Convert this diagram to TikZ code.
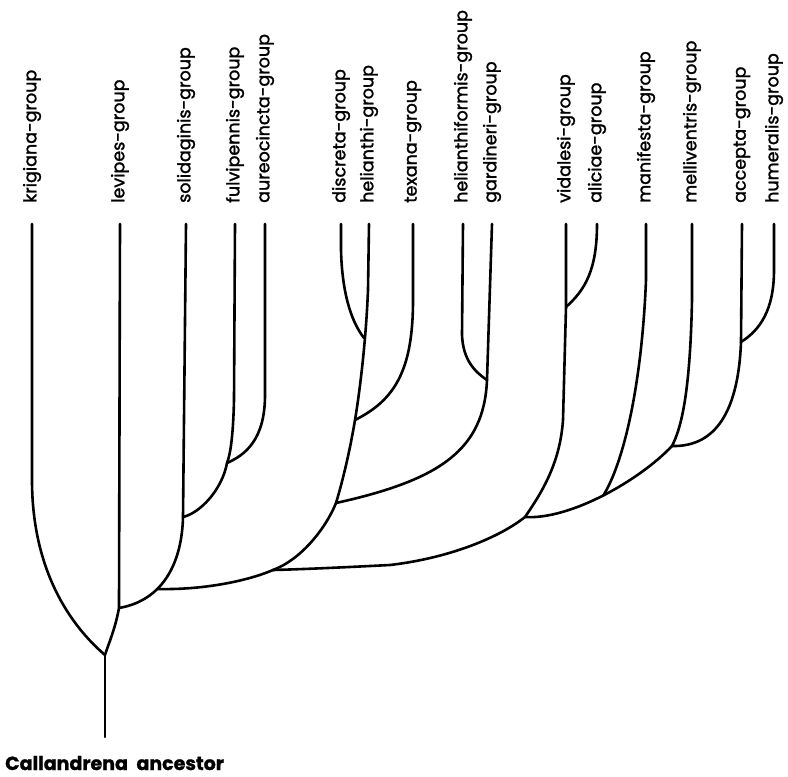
\documentclass[tikz,border=0pt]{standalone}
\usepackage{fontspec}
\setmainfont{Poppins}
\newfontfamily\labfont[FakeBold=1.6]{Poppins}
\newfontfamily\ancfont[FakeBold=1.2]{Poppins}
\begin{document}
\begin{tikzpicture}[x=1pt,y=-1pt,
  branch/.style={draw=black, line width=2.6pt, line cap=round, line join=round},
  lab/.style={rotate=90, anchor=west, inner sep=0pt, font=\labfont\fontsize{17.5}{17.5}\selectfont},
  anclab/.style={anchor=base west, inner sep=0pt, font=\ancfont\bfseries\fontsize{19}{19}\selectfont}]
\useasboundingbox (0,0) rectangle (788,777);
% tips
\foreach \n/\x in {kri/32,lev/120,sol/186,ful/235,aur/265,dis/341,hel/369,tex/413,hfm/463,gar/492,vid/566,ali/597,man/646,mel/692,acc/742,hum/774}
  \coordinate (\n) at (\x,224);
% labels
\node[lab] (Lkri) at (32,203) {krigiana-group};
\node[lab] (Llev) at (120,203) {levipes-group};
\node[lab] (Lsol) at (186,203) {solidaginis-group};
\node[lab] (Lful) at (235,203) {fulvipennis-group};
\node[lab] (Laur) at (265,203) {aureocincta-group};
\node[lab] (Ldis) at (341,203) {discreta-group};
\node[lab] (Lhel) at (369,203) {helianthi-group};
\node[lab] (Ltex) at (413,203) {texana-group};
\node[lab] (Lhfm) at (463,203) {helianthiformis-group};
\node[lab] (Lgar) at (492,203) {gardineri-group};
\node[lab] (Lvid) at (566,203) {vidalesi-group};
\node[lab] (Lali) at (597,203) {aliciae-group};
\node[lab] (Lman) at (646,203) {manifesta-group};
\node[lab] (Lmel) at (692,203) {melliventris-group};
\node[lab] (Lacc) at (742,203) {accepta-group};
\node[lab] (Lhum) at (774,203) {humeralis-group};
\node[anclab] (anc) at (5,770) {Callandrena\hspace{0.45em}ancestor};
% internal nodes
\coordinate (R) at (105,655);
\coordinate (base) at (105,737);
\coordinate (N1) at (119,608);
\coordinate (N2) at (158,589);
\coordinate (N3) at (183,517);
\coordinate (N4) at (227,463);
\coordinate (N5) at (273,570);
\coordinate (N6) at (336,503);
\coordinate (N7) at (364,338);
\coordinate (N8) at (355,420);
\coordinate (N9) at (487,380);
\coordinate (N10) at (525,517);
\coordinate (N11) at (603.4,495.4);
\coordinate (N12) at (672,446);
\coordinate (N13) at (741,342);
\coordinate (N14) at (566,307);
% branches
\draw[branch] (R) -- (base);
\draw[branch] (kri) -- (32,480) .. controls (32,570) and (70,625) .. (R);
\draw[branch] (lev) -- (N1) .. controls (115,630) and (108,645) .. (R);
\draw[branch] (sol) -- (N3) .. controls (182,560) and (165,600) .. (N1);
\draw[branch] (N2) .. controls (200,590) and (245,582) .. (N5);
\draw[branch] (ful) -- (234,400) .. controls (233,440) and (230,455) .. (N4) .. controls (222,490) and (200,513) .. (N3);
\draw[branch] (aur) -- (265,395) .. controls (265,440) and (245,455) .. (N4);
\draw[branch] (hel) -- (368,290) .. controls (366,340) and (360,390) .. (N8) .. controls (350,450) and (343,480) .. (N6) .. controls (325,530) and (300,560) .. (N5);
\draw[branch] (dis) -- (341,250) .. controls (342,290) and (350,320) .. (N7);
\draw[branch] (tex) -- (413,300) .. controls (413,370) and (395,400) .. (N8);
\draw[branch] (gar) -- (N9) .. controls (484,450) and (440,480) .. (N6);
\draw[branch] (hfm) -- (462,335) .. controls (463,360) and (475,372) .. (N9);
\draw[branch] (vid) -- (N14) -- (563,420) .. controls (560,465) and (540,495) .. (N10) .. controls (500,537) and (450,558) .. (390,565) .. controls (350,567) and (310,569) .. (N5);
\draw[branch] (ali) .. controls (597,270) and (585,290) .. (N14);
\draw[branch] (N10) .. controls (547.5,518.5) and (576.25,509.25) .. (N11) .. controls (630.5,481.5) and (656,463) .. (N12);
\draw[branch] (man) -- (646,280) .. controls (642,380) and (625,460) .. (N11);
\draw[branch] (mel) -- (692,300) .. controls (690,400) and (680,430) .. (N12);
\draw[branch] (acc) -- (N13) .. controls (738,420) and (710,447) .. (N12);
\draw[branch] (hum) -- (774,270) .. controls (774,310) and (760,330) .. (N13);
\end{tikzpicture}
\end{document}
